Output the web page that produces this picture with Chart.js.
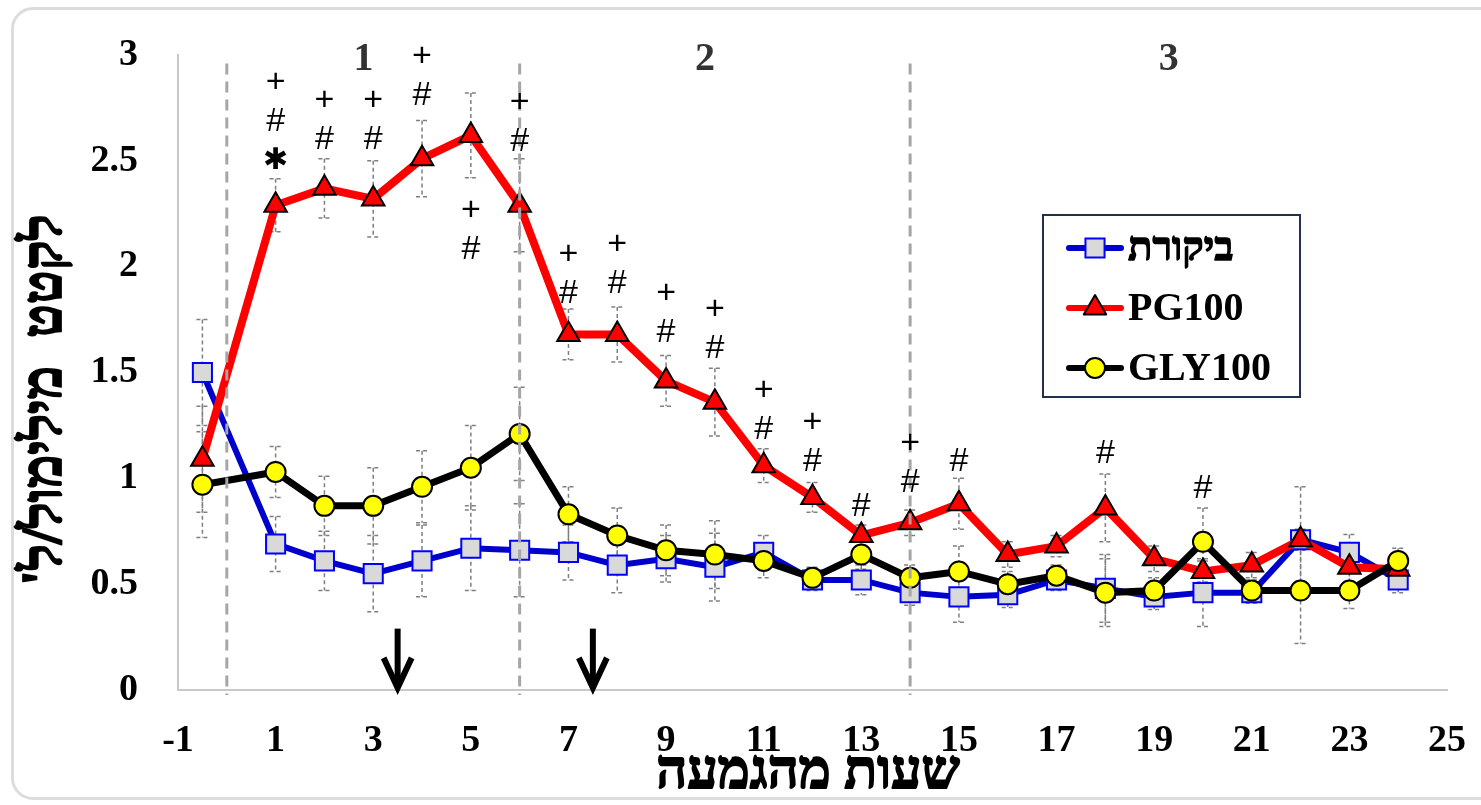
<!DOCTYPE html>
<html>
<head>
<meta charset="utf-8">
<script src="https://cdn.jsdelivr.net/npm/chart.js@4.4.1/dist/chart.umd.min.js"></script>
<style>
  html, body { margin: 0; padding: 0; background: #fff; }
  #wrap { position: relative; width: 1481px; height: 805px; overflow: hidden; }
  #frame {
    position: absolute; left: 11px; top: 7px; width: 1490px; height: 793px;
    border: 3px solid #dcdcdc; border-radius: 22px; box-sizing: border-box;
  }
  #box { position: absolute; left: 0; top: 0; width: 1481px; height: 805px; }
</style>
</head>
<body>
<div id="wrap">
  <div id="frame"></div>
  <div id="box"><canvas id="lactateChart"></canvas></div>
</div>
<script>
// hours after drenching
const hours = [-0.5, 1, 2, 3, 4, 5, 6, 7, 8, 9, 10, 11, 12, 13, 14, 15, 16, 17, 18, 19, 20, 21, 22, 23, 24];

// lactate, mmol/L
const control = [1.50, 0.69, 0.61, 0.55, 0.61, 0.67, 0.66, 0.65, 0.59, 0.62, 0.58, 0.65, 0.52, 0.52, 0.46, 0.44, 0.45, 0.52, 0.48, 0.44, 0.46, 0.46, 0.71, 0.65, 0.52];
const pg100   = [1.09, 2.29, 2.37, 2.32, 2.51, 2.62, 2.29, 1.68, 1.68, 1.46, 1.36, 1.06, 0.91, 0.73, 0.79, 0.88, 0.64, 0.68, 0.86, 0.62, 0.56, 0.59, 0.71, 0.58, 0.57];
const gly100  = [0.97, 1.03, 0.87, 0.87, 0.96, 1.05, 1.21, 0.83, 0.73, 0.66, 0.64, 0.61, 0.53, 0.64, 0.53, 0.56, 0.50, 0.54, 0.46, 0.47, 0.70, 0.47, 0.47, 0.47, 0.61];

// error bars (+/-)
const controlErr = [0.25, 0.13, 0.14, 0.18, 0.17, 0.20, 0.22, 0.13, 0.13, 0.11, 0.16, 0.08, 0.05, 0.07, 0.06, 0.12, 0.06, 0.05, 0.16, 0.06, 0.16, 0.05, 0.25, 0.085, 0.06];
const pg100Err   = [0.25, 0.125, 0.14, 0.18, 0.18, 0.20, 0.22, 0.12, 0.13, 0.12, 0.16, 0.08, 0.07, 0.05, 0.06, 0.12, 0.06, 0.05, 0.16, 0.06, 0.05, 0.06, 0.05, 0.08, 0.06];
const gly100Err  = [0.25, 0.12, 0.14, 0.18, 0.17, 0.20, 0.22, 0.13, 0.13, 0.12, 0.16, 0.08, 0.05, 0.07, 0.06, 0.12, 0.06, 0.05, 0.16, 0.06, 0.16, 0.05, 0.25, 0.085, 0.06];

const seriesNames = ['ביקורת', 'PG100', 'GLY100'];

// significance marks (top to bottom), and y of the lowest mark
const markX    = [1, 2, 3, 4, 5, 6, 7, 8, 9, 10, 11, 12, 13, 14, 15, 18, 20];
const markText = ['+#*', '+#', '+#', '+#', '+#', '+#', '+#', '+#', '+#', '+#', '+#', '+#', '#', '+#', '#', '#', '#'];
const markY    = [2.50, 2.60, 2.60, 2.81, 2.08, 2.59, 1.875, 1.92, 1.69, 1.615, 1.23, 1.08, 0.865, 0.98, 1.08, 1.115, 0.95];

// phases
const phaseLines  = [0, 6, 14];
const phaseLabels = ['1', '2', '3'];
const phaseLabelX = [2.8, 9.8, 19.3];

// dosing arrows
const arrowX = [3.5, 7.5];

const xTitle = 'שעות מהגמעה';
const yTitle = "לקטט  מילימול/ל'";

const serif = '"Liberation Serif", "Times New Roman", "DejaVu Serif", serif';

function pts(vals){
    return hours.map((h, i) => ({x: h, y: vals[i]}));
}

// hebrew glyphs fall back to a font without bold, so thicken them a bit
function boldText(c, txt, x, y, w){
    c.fillText(txt, x, y);
    c.lineWidth = w || 1.3;
    c.strokeStyle = c.fillStyle;
    c.setLineDash([]);
    c.lineJoin = 'round';
    c.strokeText(txt, x, y);
}

const extras = {
    id: 'extras',
    beforeDatasetsDraw(chart){
        const c = chart.ctx;
        const xs = chart.scales.x, ys = chart.scales.y;
        const errs = [controlErr, pg100Err, gly100Err];
        const vals = [control, pg100, gly100];
        c.save();
        c.strokeStyle = '#7f7f7f';
        c.lineWidth = 1.5;
        c.setLineDash([4, 3]);
        for(let s=0;s<3;s++){
            for(let i=0;i<hours.length;i++){
                const px = xs.getPixelForValue(hours[i]);
                const top = ys.getPixelForValue(vals[s][i] + errs[s][i]);
                const bot = ys.getPixelForValue(vals[s][i] - errs[s][i]);
                c.beginPath();
                c.moveTo(px, top); c.lineTo(px, bot);
                c.moveTo(px - 6, top); c.lineTo(px + 6, top);
                c.moveTo(px - 6, bot); c.lineTo(px + 6, bot);
                c.stroke();
            }
        }
        c.restore();
    },
    afterDatasetsDraw(chart){
        const c = chart.ctx;
        const xs = chart.scales.x, ys = chart.scales.y;
        const area = chart.chartArea;

        // phase separators
        c.save();
        c.strokeStyle = '#a6a6a6';
        c.lineWidth = 3;
        c.setLineDash([11, 7]);
        phaseLines.forEach(v => {
            const px = xs.getPixelForValue(v);
            c.beginPath();
            c.moveTo(px, ys.getPixelForValue(2.96));
            c.lineTo(px, area.bottom + 5);
            c.stroke();
        });
        c.restore();

        // phase labels
        c.save();
        c.fillStyle = '#333';
        c.font = 'bold 40px ' + serif;
        c.textAlign = 'center';
        c.textBaseline = 'middle';
        phaseLabels.forEach((t, i) => {
            c.fillText(t, xs.getPixelForValue(phaseLabelX[i]), ys.getPixelForValue(2.98));
        });
        c.restore();

        // significance marks
        c.save();
        c.fillStyle = '#000';
        c.textAlign = 'center';
        c.textBaseline = 'middle';
        markX.forEach((v, i) => {
            const px = xs.getPixelForValue(v);
            const base = ys.getPixelForValue(markY[i]);
            const chars = markText[i].split('');
            chars.forEach((ch, k) => {
                const py = base - (chars.length - 1 - k) * 39;
                if(ch === '*'){
                    c.font = 'bold 30px "DejaVu Sans"';
                    c.fillText('✱', px, py);
                } else {
                    c.font = '34px "Liberation Sans", Arial, sans-serif';
                    c.fillText(ch, px, py);
                }
            });
        });
        c.restore();

        // arrows
        c.save();
        c.strokeStyle = '#000';
        c.lineWidth = 6;
        arrowX.forEach(v => {
            const px = xs.getPixelForValue(v);
            const top = ys.getPixelForValue(0.29);
            const tip = ys.getPixelForValue(0.01);
            c.beginPath();
            c.moveTo(px, top); c.lineTo(px, tip - 6);
            c.stroke();
            c.beginPath();
            c.lineJoin = 'miter';
            c.moveTo(px - 14, tip - 30); c.lineTo(px, tip); c.lineTo(px + 14, tip - 30);
            c.stroke();
        });
        c.restore();

        // legend
        c.save();
        c.strokeStyle = '#23304d';
        c.lineWidth = 2;
        c.strokeRect(1043, 215, 257, 182);
        seriesNames.forEach((name, i) => {
            const d = chart.data.datasets.find(ds => ds.label === name);
            const ly = 248 + i * 60;
            c.strokeStyle = d.borderColor;
            c.lineWidth = 6;
            c.lineCap = 'round';
            c.beginPath(); c.moveTo(1069, ly); c.lineTo(1121, ly); c.stroke();
            c.lineCap = 'butt';
            c.fillStyle = d.pointBackgroundColor;
            c.strokeStyle = d.pointBorderColor;
            c.lineWidth = d.pointBorderWidth;
            Chart.helpers.drawPoint(c, {
                pointStyle: d.pointStyle, radius: d.pointRadius, rotation: 0,
                borderWidth: d.pointBorderWidth
            }, 1095, ly);
            c.fillStyle = '#000';
            c.font = 'bold 40px ' + serif;
            c.textAlign = 'left';
            c.textBaseline = 'middle';
            if(/[\u0590-\u05FF]/.test(name)){
                boldText(c, name, 1128, ly + 2);
            } else {
                c.fillText(name, 1128, ly + 2);
            }
        });
        c.restore();

        // axis titles
        c.save();
        c.fillStyle = '#000';
        c.direction = 'rtl';
        c.textAlign = 'center';
        c.textBaseline = 'middle';
        c.font = 'bold 54px ' + serif;
        boldText(c, xTitle, 808, 774, 1.8);
        c.font = 'bold 56px ' + serif;
        c.translate(47, 400);
        c.rotate(-Math.PI / 2);
        boldText(c, yTitle, 0, 0, 1.8);
        c.restore();
    }
};

const ctx = document.getElementById('lactateChart');

new Chart(ctx, {
    type: 'line',
    data: {
        datasets: [
            {
                label: seriesNames[2],
                data: pts(gly100),
                borderColor: '#000000',
                borderWidth: 7,
                pointStyle: 'circle',
                pointRadius: 10,
                pointBackgroundColor: '#ffff00',
                pointBorderColor: '#000000',
                pointBorderWidth: 2,
                order: 0
            },
            {
                label: seriesNames[1],
                data: pts(pg100),
                borderColor: '#ff0000',
                borderWidth: 8,
                pointStyle: 'triangle',
                pointRadius: 13,
                pointBackgroundColor: '#ff0000',
                pointBorderColor: '#000000',
                pointBorderWidth: 2,
                order: 1
            },
            {
                label: seriesNames[0],
                data: pts(control),
                borderColor: '#0000cc',
                borderWidth: 6,
                pointStyle: 'rect',
                pointRadius: 13.5,
                pointBackgroundColor: '#d9d9d9',
                pointBorderColor: '#0000ff',
                pointBorderWidth: 2,
                order: 2
            }
        ]
    },
    options: {
        responsive: true,
        maintainAspectRatio: false,
        animation: false,
        clip: false,
        layout: { padding: { top: 55, right: 34, left: 0, bottom: 0 } },
        plugins: {
            legend: { display: false },
            tooltip: { enabled: false }
        },
        scales: {
            x: {
                type: 'linear',
                min: -1,
                max: 25,
                grid: { display: false, drawTicks: true, tickLength: 26 },
                border: { color: '#c8c8c8', width: 2 },
                ticks: {
                    stepSize: 2,
                    color: '#000',
                    padding: 2,
                    maxRotation: 0,
                    font: { family: serif, size: 38, weight: 'bold' }
                },
                afterFit(scale){ scale.height = 115; }
            },
            y: {
                min: 0,
                max: 3,
                grid: { display: false, drawTicks: true, tickLength: 38 },
                border: { color: '#c8c8c8', width: 2 },
                ticks: {
                    stepSize: 0.5,
                    color: '#000',
                    padding: 2,
                    font: { family: serif, size: 38, weight: 'bold' },
                    callback: v => String(v)
                },
                afterFit(scale){ scale.width = 178; }
            }
        }
    },
    plugins: [extras]
});
</script>
</body>
</html>
